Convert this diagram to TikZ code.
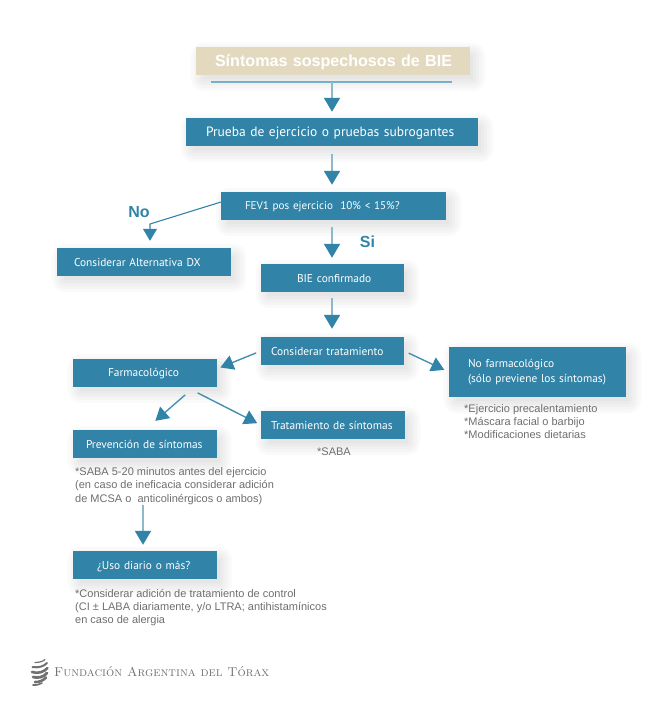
\documentclass[tikz,border=0pt]{standalone}
\usepackage{fontspec}
\setsansfont{Liberation Sans}
\newfontfamily\boxfont{PT Sans}
\usetikzlibrary{arrows.meta,backgrounds,calc}
\definecolor{boxblue}{HTML}{3184A8}
\definecolor{linkblue}{HTML}{8CB9CF}
\definecolor{headsand}{HTML}{E3D9BF}
\definecolor{notegray}{HTML}{6E6E6E}
\definecolor{logogray}{HTML}{707070}

\tikzset{
    boxnode/.style 2 args={fill=boxblue,text=white,font=\boxfont\fontsize{11.4}{14.5}\selectfont,
        minimum height=28pt,inner xsep=0pt,inner ysep=0pt,text width=#1pt,align=left,
        execute at begin node={\leftskip=#2pt\relax\vspace*{-3.5pt}}},
    notenode/.style={anchor=north west,inner sep=0pt,align=left,text=notegray,
        font=\sffamily\fontsize{11}{13.2}\selectfont},
    answernode/.style={inner sep=0pt,text=boxblue,font=\sffamily\bfseries\fontsize{16}{18}\selectfont},
    mainlink/.style={draw=linkblue,line width=2pt,-{Triangle[width=16pt,length=14pt,color=boxblue]}},
    sidelink/.style={draw=boxblue!90!white,line width=1.4pt,-{Triangle[width=15pt,length=13pt,color=boxblue]}},
    logoband/.style={draw=logogray,line cap=round}
}

\begin{document}
\begin{tikzpicture}[x=1pt,y=-1pt]
        \useasboundingbox (0,0) rectangle (654,712);

        \node[boxnode={274}{19},fill=headsand,font=\sffamily\bfseries\fontsize{16.1}{18}\selectfont] at (333, 61)(sintomas){Síntomas sospechosos de BIE};
        \node[boxnode={292}{20},font=\boxfont\fontsize{13.5}{16}\selectfont] at (332, 132)(prueba){Prueba de ejercicio o pruebas subrogantes};
        \node[boxnode={225}{24},font=\boxfont\fontsize{11.1}{14}\selectfont] at (333.5, 206)(fev){FEV1 pos ejercicio\ \ 10\% < 15\%?};
        \node[boxnode={174}{17}] at (144, 262)(alternativa){Considerar Alternativa DX};
        \node[boxnode={143}{36}] at (332.5, 278)(bie){BIE confirmado};
        \node[boxnode={143}{10}] at (332.5, 351)(considerar){Considerar tratamiento};
        \node[boxnode={143.5}{35}] at (144.75, 372.75)(farma){Farmacológico};
        \node[boxnode={177}{19},minimum height=50pt] at (537.5, 372)(nofarma){\vspace*{3.5pt}No farmacológico\\(sólo previene los síntomas)};
        \node[boxnode={144}{10}] at (333, 425)(tratamiento){Tratamiento de síntomas};
        \node[boxnode={143.5}{13}] at (144.75, 444.25)(prevencion){Prevención de síntomas};
        \node[boxnode={144}{24}] at (145, 565)(uso){¿Uso diario o más?};

        \node[answernode] at (139, 212)(no){No};
        \node[answernode] at (367.5, 242)(si){Si};

        \node[notenode] at (317, 447.5)(sabanote){*SABA};
        \node[notenode] at (464, 404)(nofarmanote){*Ejercicio precalentamiento\\*Máscara facial o barbijo\\*Modificaciones dietarias};
        \node[notenode] at (75, 467.5)(prevnote){*SABA 5-20 minutos antes del ejercicio\\(en caso de ineficacia considerar adición\\de MCSA o\ \ anticolinérgicos o ambos)};
        \node[notenode] at (75, 589)(usonote){*Considerar adición de tratamiento de control\\(CI ± LABA diariamente, y/o LTRA; antihistamínicos\\en caso de alergia};

        \coordinate (rulel) at (211, 82);
        \coordinate (ruler) at (452, 82);
        \coordinate (rulem) at (332, 82);
        \coordinate (usostart) at (143, 505);
        \coordinate (nobend) at (150, 224);
        \draw[draw=linkblue!80!boxblue,line width=1.6pt] (rulel) -- (ruler);

        \path
            (rulem) edge[mainlink,shorten >=6pt] (rulem |- prueba.north)
            (rulem |- prueba.south) edge[mainlink,shorten <=8pt,shorten >=7pt] (rulem |- fev.north)
            (rulem |- fev.south) edge[mainlink,shorten <=7pt,shorten >=6pt] (rulem |- bie.north)
            (rulem |- bie.south) edge[mainlink,shorten <=6pt,shorten >=8pt] (rulem |- considerar.north)
            (usostart) edge[mainlink,shorten >=6pt] (usostart |- uso.north)
            (considerar.west) edge[sidelink,shorten <=5pt,shorten >=4pt] (farma.3)
            (considerar.east) edge[sidelink,shorten <=5pt,shorten >=5pt] (nofarma.west)
            (farma.344) edge[sidelink,shorten <=12pt,shorten >=14pt] (prevencion.north)
            (farma.341) edge[sidelink,shorten <=13pt,shorten >=4pt] (tratamiento.west)
            ;
        \draw[draw=boxblue,line width=1.1pt,shorten >=7pt,-{Triangle[width=14pt,length=12pt,color=boxblue]}]
            (fev.178.5) -- (nobend) -- (nobend |- alternativa.north);

        % soft shadows
        \begin{scope}[on background layer]
            \foreach \boxname in {sintomas,prueba,fev,alternativa,bie,considerar,farma,nofarma,tratamiento,prevencion,uso}
                \foreach \grow in {-2,1,4,7,10}
                    \fill[black,fill opacity=.018,rounded corners={(\grow+3)*1pt}]
                        ($(\boxname.north west)+({5-\grow},{6-\grow})$) rectangle ($(\boxname.south east)+({5+\grow},{6+\grow})$);
        \end{scope}

        % logo
        \node[anchor=west,inner sep=0pt,text=logogray,font=\rmfamily\scshape\fontsize{12.9}{15}\selectfont] at (54, 672)(logotext){Fundación Argentina del Tórax};
        \draw[logoband,line width=1.2pt] (35,662.5) .. controls (39,662.5) and (43,661.5) .. (45,659.5);
        \draw[logoband,line width=2pt] (32.5,667) .. controls (38,668) and (44,666.5) .. (47,663);
        \draw[logoband,line width=2.6pt] (32,672) .. controls (38,674) and (44,672) .. (47.5,668);
        \draw[logoband,line width=2.8pt] (33,677) .. controls (38,678.5) and (44,677) .. (47,673);
        \draw[logoband,line width=2.6pt] (35,682) .. controls (39,682.5) and (44,680) .. (46,677.5);
        \draw[logoband,line width=1.6pt] (33,685) .. controls (37,685.5) and (40,684) .. (42,683);
    \end{tikzpicture}
\end{document}
